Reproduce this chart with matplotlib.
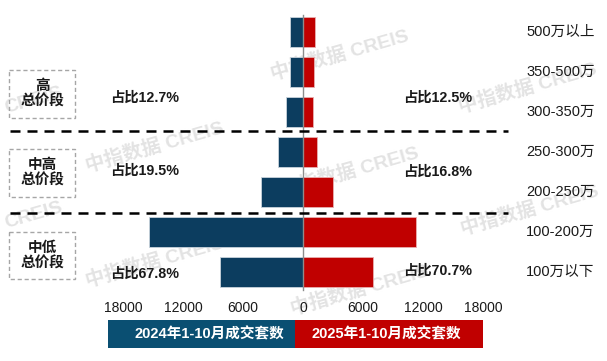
import matplotlib
matplotlib.use("Agg")
import matplotlib.pyplot as plt
from matplotlib.patches import Rectangle

plt.rcParams['font.family'] = ['Liberation Sans', 'Noto Sans CJK SC', 'DejaVu Sans']

categories = ["500万以上", "350-500万", "300-350万", "250-300万", "200-250万", "100-200万", "100万以下"]
sales_2024 = [1300, 1300, 1700, 2500, 4200, 15400, 8300]
sales_2025 = [1200, 1100, 1000, 1400, 3000, 11300, 7000]
tick_values = [-18000, -12000, -6000, 0, 6000, 12000, 18000]
tick_labels = ["18000", "12000", "6000", "0", "6000", "12000", "18000"]
groups = ["高\n总价段", "中高\n总价段", "中低\n总价段"]
share_2024 = ["占比12.7%", "占比19.5%", "占比67.8%"]
share_2025 = ["占比12.5%", "占比16.8%", "占比70.7%"]
legend_labels = ["2024年1-10月成交套数", "2025年1-10月成交套数"]

BLUE = "#0C3D5F"
RED = "#C00000"
LBLUE = "#0A4F72"

W, H = 607, 361
fig = plt.figure(figsize=(W / 100, H / 100), dpi=100)
ax = fig.add_axes([0, 0, 1, 1])
# pixel mapping: x_data = (px - 303) * 100 ; row i centre at py = 32 + 40 i
ax.set_xlim((0 - 303) * 100, (W - 303) * 100)
ax.set_ylim((H - 32) / 40, (0 - 32) / 40)
ax.axis("off")

def px(x, y):
    return (x - 303) * 100, (y - 32) / 40

n = len(categories)
rows = list(range(n))
ax.barh(rows, [-v for v in sales_2024], height=0.74, color=BLUE,
        edgecolor="#C9D3DC", linewidth=0.6, zorder=3)
ax.barh(rows, sales_2025, height=0.74, color=RED,
        edgecolor="#E8B0B0", linewidth=0.6, zorder=3)

# zero line
x0, ytop = px(303, 15)
_, ybot = px(303, 290)
ax.plot([0, 0], [ytop, ybot], color="#8C8C8C", lw=1.0, zorder=4)

# category labels
for i, c in enumerate(categories):
    xx, _ = px(526, 0)
    ax.text(xx, i, c, ha="left", va="center", fontsize=10.5, color="#1A1A1A", zorder=5)

# ticks
for v, lab in zip(tick_values, tick_labels):
    _, yy = px(0, 308)
    ax.text(v, yy, lab, ha="center", va="center", fontsize=10, color="#1A1A1A")

# dashed separators
for ypix in (131, 213):
    xa, yy = px(10, ypix)
    xb, _ = px(508, ypix)
    ax.plot([xa, xb], [yy, yy], color="black", lw=1.8, ls=(0, (4, 2.8)), zorder=5)

# group boxes
box_spans = [(70, 118), (149, 197), (232, 279)]
for (y1, y2), g in zip(box_spans, groups):
    xa, ya = px(9, y1)
    xb, yb = px(75, y2)
    ax.add_patch(Rectangle((xa, ya), xb - xa, yb - ya, fill=False,
                           edgecolor="#A6A6A6", lw=1.0, ls=(0, (3, 2)), zorder=5))
    cx, cy = px(42, (y1 + y2) / 2)
    ax.text(cx, cy, g, ha="center", va="center", fontsize=10.5, fontweight="bold",
            color="#1A1A1A", linespacing=1.15, zorder=6)

# share labels
left_y = [98, 171, 274]
right_y = [98, 172, 271]
for s, yp in zip(share_2024, left_y):
    xx, yy = px(110, yp)
    ax.text(xx, yy, s, ha="left", va="center", fontsize=10.3, fontweight="bold",
            color="#1A1A1A", zorder=6)
for s, yp in zip(share_2025, right_y):
    xx, yy = px(403, yp)
    ax.text(xx, yy, s, ha="left", va="center", fontsize=10.3, fontweight="bold",
            color="#1A1A1A", zorder=6)

# legend boxes
xa, ya = px(108, 320)
xb, yb = px(295, 348)
ax.add_patch(Rectangle((xa, ya), xb - xa, yb - ya, color=LBLUE, lw=0, zorder=5))
cx, cy = px(209, 334)
ax.text(cx, cy, legend_labels[0], ha="center", va="center", fontsize=10.5,
        fontweight="bold", color="white", zorder=6)
xa, ya = px(295, 320)
xb, yb = px(483, 348)
ax.add_patch(Rectangle((xa, ya), xb - xa, yb - ya, color=RED, lw=0, zorder=5))
cx, cy = px(386, 334)
ax.text(cx, cy, legend_labels[1], ha="center", va="center", fontsize=10.5,
        fontweight="bold", color="white", zorder=6)

# watermarks
wm = "中指数据 CREIS"
for (wx, wy) in [(155, 147), (155, 262), (528, 88), (530, 210), (340, 55), (350, 172), (360, 290)]:
    xx, yy = px(wx, wy)
    ax.text(xx, yy, wm, ha="center", va="center", fontsize=14, fontweight="bold",
            color="#DCDCDC", rotation=16, alpha=0.8, zorder=1)
for (wx, wy) in [(34, 100), (34, 215)]:
    xx, yy = px(wx, wy)
    ax.text(xx, yy, "CREIS", ha="center", va="center", fontsize=14, fontweight="bold",
            color="#DCDCDC", rotation=16, alpha=0.8, zorder=1)

fig.savefig("out.png", dpi=100)
